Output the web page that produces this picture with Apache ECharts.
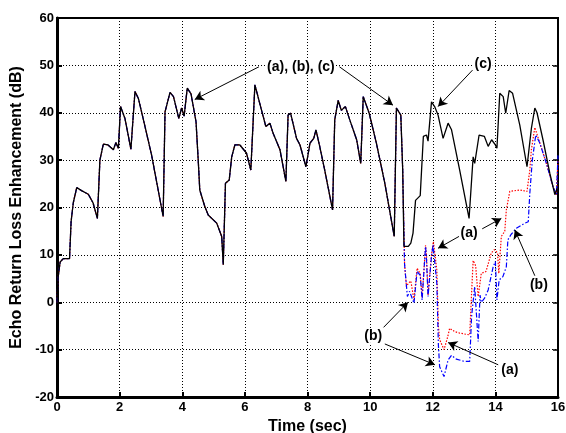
<!DOCTYPE html>
<html>
<head>
<meta charset="utf-8">
<script src="https://cdn.jsdelivr.net/npm/echarts@6/dist/echarts.min.js"></script>
<style>
  html, body { margin: 0; padding: 0; background: #fff; }
  #chart { width: 566px; height: 433px; }
</style>
</head>
<body>
<div id="chart"></div>
<script>
// time (sec), ERLE (dB) -- shared by all three curves until ~11 s
const commonPart = [
  [0, 0], [0.03, 5], [0.1, 8.5], [0.2, 9.2], [0.4, 9.2], [0.45, 17], [0.52, 21], [0.63, 24.2],
  [0.8, 23.5], [1.0, 22.8], [1.15, 21], [1.29, 17.7], [1.37, 30], [1.48, 33.4], [1.63, 33.2],
  [1.8, 32.2], [1.88, 33.7], [1.96, 32.5], [2.03, 41.3], [2.17, 38.8], [2.36, 32.3], [2.49, 44.5],
  [2.6, 43], [2.75, 38.8], [3.02, 31.1], [3.39, 18.1], [3.45, 40.2], [3.61, 44.3], [3.72, 43.4],
  [3.89, 38.8], [3.98, 41], [4.06, 39.3], [4.16, 45.2], [4.28, 44], [4.44, 38.1], [4.51, 30],
  [4.56, 23.7], [4.72, 20.2], [4.83, 18.4], [5.1, 16.7], [5.26, 13.9], [5.31, 7.9], [5.38, 25.1],
  [5.5, 25.8], [5.58, 30.7], [5.68, 33.2], [5.84, 33.2], [6.05, 31.5], [6.19, 27.9], [6.32, 45.9],
  [6.53, 40.6], [6.67, 37.1], [6.8, 37.8], [6.9, 35.7], [7.12, 32.2], [7.31, 25.5], [7.38, 39.5],
  [7.46, 39.9], [7.65, 34.6], [7.76, 33.2], [7.95, 28.6], [8.08, 33.6], [8.2, 34.6], [8.27, 36.4],
  [8.39, 32.9], [8.55, 27.9], [8.8, 19.5], [8.87, 38.5], [8.98, 42.6], [9.08, 40.5], [9.21, 41.3],
  [9.35, 38.5], [9.57, 34.3], [9.7, 29.3], [9.78, 43.4], [9.82, 43.8], [9.97, 39.9], [10.2, 33.6],
  [10.47, 25.1], [10.77, 13.9], [10.84, 41], [10.9, 41.3], [10.98, 39.5], [11.04, 28]
]

// (c) black
const tailC = [
  [11.08, 11.8], [11.22, 11.8], [11.3, 12.5], [11.37, 14.6], [11.45, 21.5], [11.6, 22.5],
  [11.7, 35], [11.8, 35.3], [11.85, 34], [11.96, 42.3], [12.06, 41.3], [12.17, 39.5], [12.33, 34.6],
  [12.49, 37.8], [12.6, 36.4], [12.86, 27.9], [13.16, 17.7], [13.29, 30.7], [13.34, 29.3],
  [13.48, 35.3], [13.65, 35], [13.77, 32.9], [13.88, 34.3], [14.0, 33.2], [14.05, 32.5],
  [14.14, 44.1], [14.25, 43.4], [14.33, 39.9], [14.44, 44.7], [14.55, 44.1], [14.78, 37.4],
  [15.01, 28.6], [15.15, 36.7], [15.26, 41], [15.33, 40], [15.52, 34.3], [15.74, 27.2],
  [15.9, 22.7], [15.97, 24]
]

// (a) red dotted
const tailA = [
  [11.1, 8], [11.16, 3.3], [11.22, 4], [11.3, 4.5], [11.4, 0.5], [11.5, 7.2], [11.6, 6],
  [11.66, 1], [11.77, 12], [11.8, 10], [11.85, 1.5], [11.96, 10], [12.02, 12.8], [12.13, 6.8],
  [12.18, -5], [12.22, -7.9], [12.36, -10], [12.47, -7.5], [12.54, -5.5], [12.7, -6.2],
  [12.85, -6.5], [13.18, -6.9], [13.24, 1.9], [13.29, 8.8], [13.37, 7.7], [13.45, 1.2],
  [13.55, 6.1], [13.7, 6.5], [13.87, 10.4], [13.97, 11.1], [14.07, 10.4], [14.11, 6.1],
  [14.19, 13.9], [14.3, 15], [14.35, 19.5], [14.46, 23.4], [14.78, 23.7], [15.01, 23.4],
  [15.1, 27.9], [15.15, 32.2], [15.26, 36.9], [15.42, 33.6], [15.63, 29.3], [15.84, 24.4],
  [15.95, 22.7], [16, 30]
]

// (b) blue dash-dot
const tailB = [
  [11.1, 8], [11.19, 1.2], [11.26, 2.3], [11.3, 2], [11.4, -0.2], [11.5, 6.5], [11.6, 5.7],
  [11.66, 0.5], [11.77, 11.8], [11.8, 9], [11.85, 1.2], [11.96, 9.7], [12.01, 12.1], [12.13, 4],
  [12.18, -9], [12.22, -13.6], [12.36, -15.7], [12.49, -12.2], [12.6, -11.2], [12.75, -12],
  [13.02, -12.5], [13.18, -12.5], [13.24, -3], [13.34, 3.3], [13.4, 3], [13.45, -8.3],
  [13.51, 1.5], [13.55, 0], [13.65, 0.8], [13.77, 2.6], [13.93, 7.5], [14.0, 8.6], [14.05, 0.5],
  [14.09, 0.1], [14.12, 4.7], [14.24, 5.4], [14.35, 7.5], [14.4, 13.2], [14.5, 14.3],
  [14.67, 15.6], [14.94, 16.7], [15.05, 17], [15.1, 23], [15.18, 30], [15.29, 35.3],
  [15.42, 33.6], [15.63, 29.3], [15.84, 24.4], [15.95, 22.7], [16, 31]
]

const annotTexts = ['(a), (b), (c)', '(c)', '(a)', '(b)', '(b)', '(a)']
const annotAt = [[7.79, 49.7], [13.61, 50.2], [13.16, 14.6], [15.39, 3.7], [10.1, -7.1], [14.46, -14.4]]

// arrows: [from, to]
const arrows = [
  [[6.45, 49.7], [4.4, 42.8]],
  [[9.02, 49.7], [10.73, 41.6]],
  [[13.27, 49.0], [12.17, 41.3]],
  [[13.58, 15.5], [14.19, 17.7]],
  [[12.84, 13.9], [12.17, 11.4]],
  [[15.26, 5.6], [14.62, 15.3]],
  [[10.43, -5.3], [11.21, 0.0]],
  [[10.47, -8.8], [12.07, -13.2]],
  [[14.09, -13.2], [12.49, -8.5]]
]

const xTicks = { min: 0, max: 16, interval: 2 }
const yTicks = { min: -20, max: 60, interval: 10 }

const font = 'Liberation Sans, Arial, sans-serif'

const chart = echarts.init(document.getElementById('chart'))

const lineBase = {
  type: 'line',
  showSymbol: false,
  symbol: 'none',
  animation: false,
  silent: true
}

chart.setOption({
  backgroundColor: '#fff',
  animation: false,
  grid: {
    left: 57, right: 8, top: 18, bottom: 36,
    outerBoundsMode: 'none',
    containLabel: false,
    show: true, borderColor: '#000', borderWidth: 2, backgroundColor: 'transparent'
  },
  xAxis: {
    type: 'value',
    ...xTicks,
    name: 'Time (sec)',
    nameLocation: 'middle',
    nameGap: 14,
    nameTextStyle: { fontFamily: font, fontWeight: 'bold', fontSize: 16, color: '#000', verticalAlign: 'top' },
    axisLine: { onZero: false, lineStyle: { color: '#000', width: 3 } },
    axisTick: { inside: true, length: 5, lineStyle: { color: '#000', width: 2 } },
    axisLabel: { fontFamily: font, fontWeight: 'bold', fontSize: 13, color: '#000', margin: 4 },
    splitLine: { lineStyle: { color: '#000', type: [1, 2], width: 1 } }
  },
  yAxis: [
    {
      type: 'value',
      ...yTicks,
      name: 'Echo Return Loss Enhancement (dB)',
      nameLocation: 'middle',
      nameGap: 27,
      nameTextStyle: { fontFamily: font, fontWeight: 'bold', fontSize: 16, color: '#000' },
      axisLine: { onZero: false, lineStyle: { color: '#000', width: 3 } },
      axisTick: { inside: true, length: 5, lineStyle: { color: '#000', width: 2 } },
      axisLabel: { fontFamily: font, fontWeight: 'bold', fontSize: 13, color: '#000', margin: 3 },
      splitLine: { lineStyle: { color: '#000', type: [1, 2], width: 1 } }
    },
    {
      type: 'value',
      ...yTicks,
      position: 'right',
      axisLine: { show: true, onZero: false, lineStyle: { color: '#000', width: 2 } },
      axisTick: { inside: true, length: 5, lineStyle: { color: '#000', width: 1.5 } },
      axisLabel: { show: false },
      splitLine: { show: false }
    }
  ],
  series: [
    {
      ...lineBase,
      name: '(a)',
      data: commonPart.concat(tailA),
      lineStyle: { color: '#ff0000', width: 1.2, type: [1.5, 1.5] },
      z: 3
    },
    {
      ...lineBase,
      name: '(b)',
      data: commonPart.concat(tailB),
      lineStyle: { color: '#0000ff', width: 1.2, type: [5, 2, 1.5, 2] },
      z: 4
    },
    {
      ...lineBase,
      name: '(c)',
      data: commonPart.concat(tailC),
      lineStyle: { color: '#000', width: 1.3 },
      z: 5,
      markLine: {
        silent: true,
        animation: false,
        symbol: ['none', 'arrow'],
        symbolSize: [8, 9],
        label: { show: false },
        lineStyle: { color: '#000', width: 1, type: 'solid', opacity: 1 },
        data: arrows.map(([a, b]) => [{ coord: a }, { coord: b }])
      }
    },
    {
      type: 'scatter',
      symbolSize: 0,
      silent: true,
      animation: false,
      z: 10,
      itemStyle: { color: '#000', opacity: 1 },
      data: annotAt.map((p, i) => ({ value: p, name: annotTexts[i] })),
      label: {
        show: true,
        position: 'inside',
        formatter: p => p.name,
        fontFamily: font,
        fontWeight: 'bold',
        fontSize: 14,
        color: '#000',
        opacity: 1,
        textBorderWidth: 0,
        backgroundColor: '#fff',
        padding: [0, 1]
      }
    }
  ]
})
</script>
</body>
</html>
